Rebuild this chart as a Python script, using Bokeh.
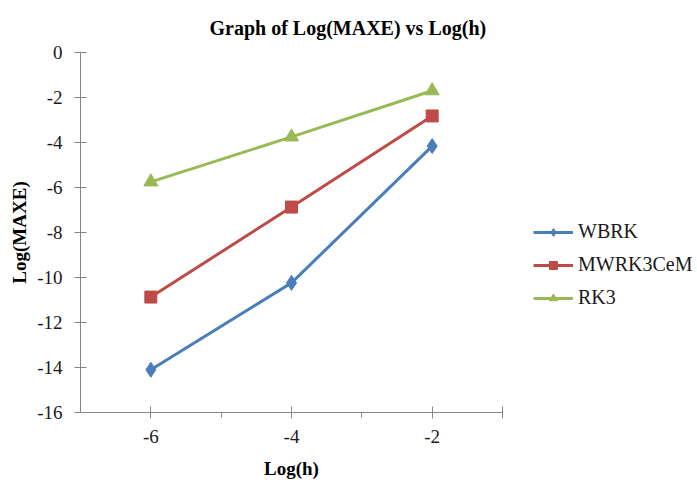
from bokeh.plotting import figure
from bokeh.models import Range1d, FixedTicker, Legend, LegendItem, Title
from bokeh.embed import file_html
from bokeh.resources import INLINE

# ---- data ----
log_h = [-6, -4, -2]
wbrk = [-14.1, -10.24, -4.16]
mwrk3cem = [-10.87, -6.87, -2.82]
rk3 = [-5.75, -3.75, -1.7]
series_names = ["WBRK", "MWRK3CeM", "RK3"]
x_ticks = [-6, -4, -2, -1]
x_minor = [-5, -3]
y_ticks = [-16, -14, -12, -10, -8, -6, -4, -2, 0]

SERIF = "Liberation Serif"
AXIS_COL = "#868686"
colors = ["#4A7EBB", "#BE4B48", "#98B954"]

p = figure(frame_width=422, frame_height=360, output_backend="svg", toolbar_location=None,
           x_range=Range1d(-7, -1), y_range=Range1d(-16, 0),
           min_border_left=80, min_border_right=187, min_border_top=52, min_border_bottom=71)
p.grid.visible = False
p.outline_line_color = None
p.background_fill_color = "white"
p.border_fill_color = "white"

for ax in (p.xaxis[0], p.yaxis[0]):
    ax.axis_line_color = AXIS_COL
    ax.major_tick_line_color = AXIS_COL
    ax.minor_tick_line_color = AXIS_COL
    ax.major_label_text_font = SERIF
    ax.major_label_text_font_size = "19px"
    ax.major_label_text_color = "#1a1a1a"
    ax.axis_label_text_font = SERIF
    ax.axis_label_text_font_style = "bold"
    ax.axis_label_text_font_size = "19px"
    ax.axis_label_text_color = "#000000"

p.xaxis.ticker = FixedTicker(ticks=x_ticks, minor_ticks=x_minor)
xo = {t: str(t) for t in x_ticks}
xo[x_ticks[-1]] = ""
p.xaxis.major_label_overrides = xo
p.xaxis.major_tick_in = 6
p.xaxis.major_tick_out = 6
p.xaxis.minor_tick_in = 0
p.xaxis.minor_tick_out = 5
p.xaxis.major_label_standoff = 11
p.xaxis.axis_label = "Log(h)"
p.xaxis.axis_label_standoff = 12

p.yaxis.ticker = FixedTicker(ticks=y_ticks, minor_ticks=[])
p.yaxis.major_label_overrides = {t: str(t) for t in y_ticks}
p.yaxis.major_tick_in = 6
p.yaxis.major_tick_out = 6
p.yaxis.major_label_standoff = 12
p.yaxis.axis_label = "Log(MAXE)"
p.yaxis.axis_label_standoff = 4

l1 = p.line(log_h, wbrk, line_color=colors[0], line_width=3)
m1 = p.scatter(log_h, wbrk, marker="diamond", size=15, fill_color=colors[0], line_color=colors[0])
l2 = p.line(log_h, mwrk3cem, line_color=colors[1], line_width=3)
m2 = p.scatter(log_h, mwrk3cem, marker="square", size=12, fill_color=colors[1], line_color=colors[1])
l3 = p.line(log_h, rk3, line_color=colors[2], line_width=3)
m3 = p.scatter(log_h, rk3, marker="triangle", size=14, fill_color=colors[2], line_color=colors[2])

legend = Legend(items=[LegendItem(label=series_names[0], renderers=[l1, m1]),
                       LegendItem(label=series_names[1], renderers=[l2, m2]),
                       LegendItem(label=series_names[2], renderers=[l3, m3])],
                location=(31, 103))
legend.background_fill_alpha = 0
legend.border_line_color = None
legend.label_text_font = SERIF
legend.label_text_font_size = "20px"
legend.label_text_color = "#1a1a1a"
legend.glyph_width = 40
legend.label_standoff = 5
legend.spacing = 10
legend.padding = 0
legend.margin = 0
p.add_layout(legend, "right")

p.title = Title(text="Graph of Log(MAXE) vs Log(h)", align="left", offset=129,
                text_font=SERIF, text_font_style="bold", text_font_size="20px",
                text_color="#000000", standoff=27)

open("out.html", "w").write(file_html(p, INLINE))
